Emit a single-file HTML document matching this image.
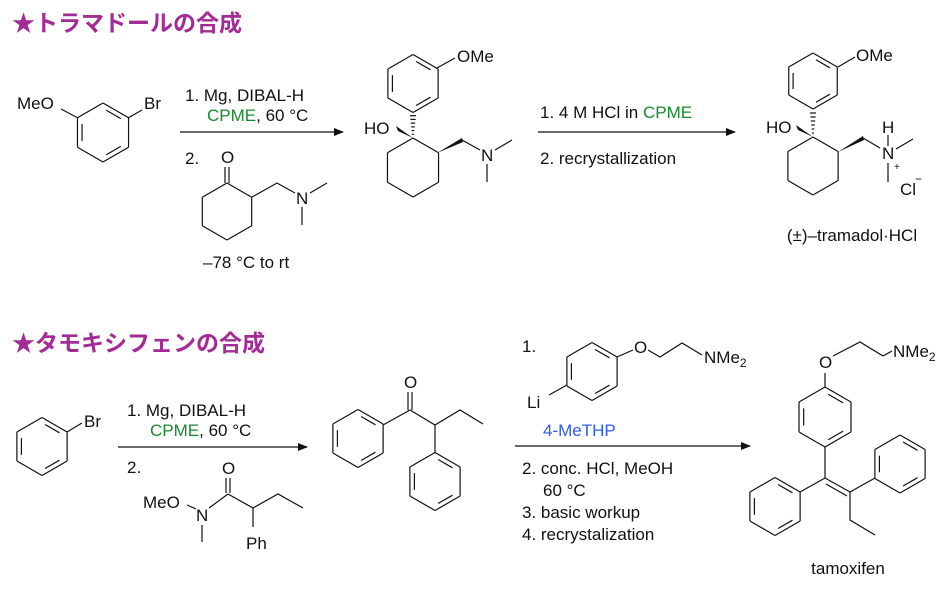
<!DOCTYPE html>
<html><head><meta charset="utf-8">
<style>
html,body{margin:0;padding:0;background:#fff;}
svg{display:block;}
text{font-family:"Liberation Sans","Noto Sans CJK JP",sans-serif;font-size:17px;fill:#111;}
.t{font-size:23px;font-weight:bold;fill:#a42b96;font-family:"Noto Sans CJK JP",sans-serif;}
.g{fill:#1a8a2e;}
.b{fill:#2f5bf0;}
line,polyline{stroke:#111;stroke-width:1.2;fill:none;}
</style></head>
<body>
<svg id="s" width="951" height="589" viewBox="0 0 951 589" xmlns="http://www.w3.org/2000/svg">
<defs><marker id="ah" markerWidth="10" markerHeight="8" refX="9" refY="4" orient="auto" markerUnits="userSpaceOnUse"><path d="M0,0 L10,4 L0,8 Z" fill="#111"/></marker></defs>
<text class="t" x="12" y="31">★トラマドールの合成</text>
<text class="t" x="12" y="351">★タモキシフェンの合成</text>

<text x="17" y="109">MeO</text>
<line x1="61" y1="109" x2="78" y2="118"/>
<line x1="128" y1="118" x2="142" y2="110"/>
<text x="144" y="109">Br</text>

<line x1="180" y1="132" x2="343" y2="132" marker-end="url(#ah)"/>
<text x="185" y="101">1. Mg, DIBAL-H</text>
<text x="207" y="121"><tspan class="g">CPME</tspan>, 60 °C</text>
<text x="185" y="164">2.</text>
<text x="221" y="163">O</text>
<line x1="225" y1="167" x2="225" y2="183"/><line x1="229" y1="167" x2="229" y2="183"/>
<polyline points="252,197 277,183 295,193"/>
<text x="296" y="204">N</text>
<line x1="310" y1="193" x2="327" y2="183"/>
<line x1="302" y1="207" x2="302" y2="225"/>
<text x="203" y="268">–78 °C to rt</text>

<line x1="437" y1="68" x2="455" y2="58"/>
<text x="457" y="62">OMe</text>
<text x="364" y="134">HO</text>
<polygon points="413,138 396,126 398,131" fill="#111"/>
<polygon points="437,153 462,138 463,142" fill="#111"/>
<line x1="462" y1="140" x2="480" y2="150"/>
<text x="481" y="161">N</text>
<line x1="495" y1="150" x2="512" y2="140"/>
<line x1="487" y1="164" x2="487" y2="182"/>

<line x1="538" y1="132" x2="735" y2="132" marker-end="url(#ah)"/>
<text x="540" y="118">1. 4 M HCl in <tspan class="g">CPME</tspan></text>
<text x="540" y="164">2. recrystallization</text>

<line x1="838" y1="67" x2="855" y2="57"/>
<text x="856" y="61">OMe</text>
<text x="766" y="133">HO</text>
<polygon points="813,137 796,125 798,130" fill="#111"/>
<polygon points="838,152 863,136 864,140" fill="#111"/>
<line x1="863" y1="138" x2="880" y2="148"/>
<text x="882" y="159">N</text>
<text x="882" y="133">H</text>
<line x1="888" y1="135" x2="888" y2="146"/>
<line x1="896" y1="149" x2="913" y2="139"/>
<line x1="888" y1="163" x2="888" y2="182"/>
<text x="894" y="170" style="font-size:10px">+</text>
<text x="900" y="195">Cl</text>
<text x="915" y="183" style="font-size:12px">−</text>
<text x="852" y="241" text-anchor="middle">(±)–tramadol·HCl</text>

<line x1="67" y1="432" x2="82" y2="423"/>
<text x="84" y="427">Br</text>
<line x1="118" y1="447" x2="307" y2="447" marker-end="url(#ah)"/>
<text x="127" y="416">1. Mg, DIBAL-H</text>
<text x="150" y="436"><tspan class="g">CPME</tspan>, 60 °C</text>
<text x="127" y="473">2.</text>
<text x="222" y="474">O</text>
<line x1="226" y1="478" x2="226" y2="493"/><line x1="230" y1="478" x2="230" y2="493"/>
<text x="143" y="508">MeO</text>
<line x1="187" y1="505" x2="196" y2="509"/>
<text x="196" y="521">N</text>
<line x1="209" y1="508" x2="228" y2="494"/>
<line x1="202" y1="525" x2="202" y2="542"/>
<polyline points="228,494 253,508 278,494 303,508"/>
<line x1="253" y1="508" x2="253" y2="527"/>
<text x="246" y="549">Ph</text>

<line x1="383" y1="425" x2="410" y2="410"/>
<line x1="408" y1="392" x2="408" y2="410"/><line x1="412" y1="392" x2="412" y2="410"/>
<text x="404" y="388">O</text>
<polyline points="410,410 435,425 460,410 483,424"/>
<line x1="435" y1="425" x2="435" y2="453"/>

<line x1="515" y1="446" x2="750" y2="446" marker-end="url(#ah)"/>
<text x="522" y="352">1.</text>
<line x1="617" y1="357" x2="633" y2="350"/>
<text x="634" y="353">O</text>
<polyline points="648,350 660,357 682,343 702,355"/>
<text x="704" y="363">NMe<tspan style="font-size:12px" dy="4">2</tspan></text>
<line x1="567" y1="385" x2="549" y2="395"/>
<text x="527" y="408">Li</text>
<text class="b" x="543" y="436">4-MeTHP</text>
<text x="522" y="474">2. conc. HCl, MeOH</text>
<text x="543" y="496">60 °C</text>
<text x="522" y="518">3. basic workup</text>
<text x="522" y="540">4. recrystalization</text>

<text x="819" y="368">O</text>
<line x1="825" y1="373" x2="825" y2="387"/>
<polyline points="833,356 860,342 883,356"/>
<line x1="883" y1="356" x2="892" y2="351"/>
<text x="893" y="357">NMe<tspan style="font-size:12px" dy="4">2</tspan></text>
<line x1="825" y1="447" x2="825" y2="478"/>
<line x1="825" y1="478" x2="850" y2="492"/>
<line x1="826" y1="484" x2="847" y2="496"/>
<line x1="825" y1="478" x2="800" y2="492"/>
<line x1="850" y1="492" x2="875" y2="478"/>
<polyline points="850,492 850,520 875,535"/>
<text x="848" y="574" text-anchor="middle">tamoxifen</text>
<g id="rings"></g>
</svg>
<script>
var ns="http://www.w3.org/2000/svg";
var g=document.getElementById("rings");
function L(p,x1,y1,x2,y2){var l=document.createElementNS(ns,"line");l.setAttribute("x1",x1);l.setAttribute("y1",y1);l.setAttribute("x2",x2);l.setAttribute("y2",y2);p.appendChild(l);}
function ring(cx,cy,r,d){var v=[];for(var i=0;i<6;i++){var a=(-90+60*i)*Math.PI/180;v.push([cx+r*Math.cos(a),cy+r*Math.sin(a)]);}
for(var i=0;i<6;i++){var A=v[i],B=v[(i+1)%6];L(g,A[0],A[1],B[0],B[1]);
if(d&&d.indexOf(i)>=0){var f=0.82,s=0.15;var a1=[cx+(A[0]-cx)*f,cy+(A[1]-cy)*f],b1=[cx+(B[0]-cx)*f,cy+(B[1]-cy)*f];
var ax=a1[0]+(b1[0]-a1[0])*s,ay=a1[1]+(b1[1]-a1[1])*s,bx=b1[0]+(a1[0]-b1[0])*s,by=b1[1]+(a1[1]-b1[1])*s;L(g,ax,ay,bx,by);}}}
var D=[0,2,4];
ring(103,132.5,29.5,D);ring(227,211.5,28.5);
ring(413,83.5,29,D);ring(413,167.5,29.5);
ring(813,81,28,D);ring(813,166,29);
ring(42,446.5,29,D);ring(358,438.5,29,D);ring(435,481.5,29,D);
ring(592,371.5,29,D);ring(825,417,30,D);ring(775,506.5,29,D);ring(900,464,29,D);
function hash(x1,y1,x2,y2){for(var i=1;i<=6;i++){var t=i/7,x=x1+(x2-x1)*t,y=y1+(y2-y1)*t,w=0.5+t*3;L(g,x-w,y,x+w,y);}}
hash(413,138,413,112);hash(813,137,813,109);
</script>
</body></html>
